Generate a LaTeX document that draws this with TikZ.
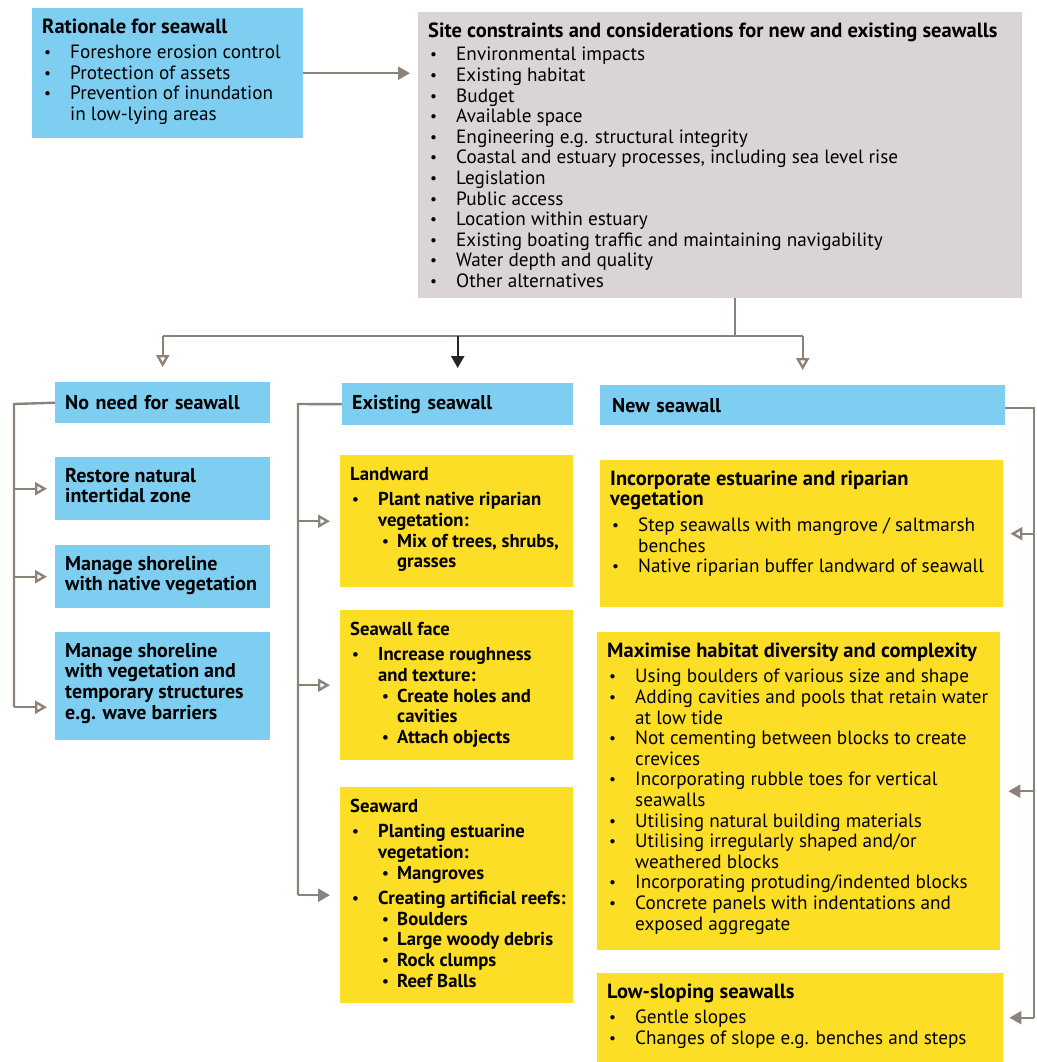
\documentclass[tikz,border=0pt]{standalone}
\usepackage{graphicx}
\usepackage{fontspec}
\setmainfont{PT Sans}
\usetikzlibrary{arrows.meta, calc}

\definecolor{seablue}{RGB}{125,206,240}
\definecolor{sandyellow}{RGB}{253,222,38}
\definecolor{sitegrey}{RGB}{218,212,214}
\definecolor{linkgrey}{RGB}{140,130,122}

% bullet lines with hanging indent
\newcommand{\bulletmark}{\raisebox{1pt}{\scalebox{0.8}{•}}}
\newcommand{\bul}[1]{\par\noindent\hangindent=28pt\hangafter=1\makebox[28pt][l]{\hspace{2pt}\bulletmark}#1}
\newcommand{\subbul}[1]{\par\noindent\hangindent=47pt\hangafter=1\hspace*{32pt}\makebox[15pt][l]{\bulletmark}#1}
\newcommand{\heading}[1]{{\fontsize{20.5}{20.6}\selectfont\bfseries #1\par}\vspace{5pt}}
% width, height, contents (top aligned)
\newcommand{\panel}[3]{\makebox[#1][l]{\parbox[c][#2][t]{\dimexpr#1+40pt\relax}{\raggedright\noindent\rule{0pt}{25pt}#3}}}

\begin{document}
\begin{tikzpicture}[
    x=1pt, y=-1pt,
    box/.style={rectangle, anchor=north west, inner xsep=10pt, inner ysep=0pt},
    body/.style={font=\fontsize{19.2}{20.6}\selectfont},
    head/.style={box, fill=seablue, align=left, font=\fontsize{20}{20.6}\selectfont\bfseries},
    choice/.style={box, fill=seablue, font=\fontsize{20}{20.6}\selectfont\bfseries},
    wallbox/.style={box, fill=sandyellow, font=\fontsize{18.7}{20.6}\selectfont\bfseries},
    link/.style={line width=2.4pt, draw=linkgrey},
    arrow/.style={-{Triangle[length=12pt, width=13pt]}, line width=2.4pt, draw=linkgrey},
    openarrow/.style={-{Triangle[open, length=12pt, width=13pt]}, line width=2.4pt, draw=linkgrey}
]
\useasboundingbox (0,0) rectangle (1036,1062);

% === Top row ===
\node[box, body, fill=seablue] (rationale) at (32,8)
  {\panel{251pt}{130pt}{\heading{Rationale for seawall}
   \bul{Foreshore erosion control}
   \bul{Protection of assets}
   \bul{Prevention of inundation\newline in low-lying areas}}};

\node[box, body, fill=sitegrey] (site) at (418,12)
  {\panel{584pt}{286pt}{\heading{Site constraints and considerations for new and existing seawalls}\vspace{-2pt}
   \bul{Environmental impacts}
   \bul{Existing habitat}
   \bul{Budget}
   \bul{Available space}
   \bul{Engineering e.g. structural integrity}
   \bul{Coastal and estuary processes, including sea level rise}
   \bul{Legislation}
   \bul{Public access}
   \bul{Location within estuary}
   \bul{Existing boating traffic and maintaining navigability}
   \bul{Water depth and quality}
   \bul{Other alternatives}}};

\draw[arrow, shorten >=8pt] (rationale.east) -- (rationale.east -| site.west);

% === Options ===
\node[head, minimum width=215pt, minimum height=41pt, text width=195pt] (noneed) at (55,382) {No need for seawall};
\node[head, minimum width=231pt, minimum height=42pt, text width=211pt] (existing) at (342,383) {Existing seawall};
\node[head, minimum width=403pt, minimum height=40pt, text width=381pt, inner xsep=12pt] (newwall) at (600,385) {New seawall};

\coordinate (split) at (735,336);
\draw[link] (site.south -| split) -- (split);
\draw[link] (noneed.north |- split) -- (newwall.north |- split);
\draw[openarrow, shorten >=15pt] (noneed.north |- split) -- (noneed.north);
\draw[arrow, draw=black!85, shorten >=15pt] (existing.north |- split) -- (existing.north);
\draw[openarrow, shorten >=15pt] (newwall.north |- split) -- (newwall.north);

% === No need for seawall ===
\node[choice] (restore) at (55,457)
  {\panel{195pt}{63pt}{Restore natural\newline intertidal zone}};
\node[choice] (managenat) at (55,545)
  {\panel{195pt}{63pt}{Manage shoreline\newline with native vegetation}};
\node[choice] (managetemp) at (55,632)
  {\panel{195pt}{108pt}{Manage shoreline\newline with vegetation and\newline temporary structures\newline e.g. wave barriers}};

\coordinate (leftrail) at (14,404);
\draw[link] (noneed.west) -- (leftrail) -- ([yshift=-21pt]managetemp.west -| leftrail);
\draw[openarrow, shorten >=8pt] (restore.west -| leftrail) -- (restore.west);
\draw[openarrow, shorten >=8pt] (managenat.west -| leftrail) -- (managenat.west);
\draw[openarrow, shorten >=8pt] ([yshift=-21pt]managetemp.west -| leftrail) -- ([yshift=-21pt]managetemp.west);

% === Existing seawall ===
\node[wallbox] (landward) at (340,455)
  {\panel{213pt}{132pt}{Landward\par\vspace{5pt}
   \bul{Plant native riparian\newline vegetation:}
   \subbul{Mix of trees, shrubs,\newline grasses}}};
\node[wallbox] (face) at (340,610)
  {\panel{213pt}{150pt}{Seawall face\par\vspace{5pt}
   \bul{Increase roughness\newline and texture:}
   \subbul{Create holes and\newline cavities}
   \subbul{Attach objects}}};
\node[wallbox] (seaward) at (340,787)
  {\panel{213pt}{216pt}{Seaward\par\vspace{5pt}
   \bul{Planting estuarine\newline vegetation:}
   \subbul{Mangroves}\par\vspace{5pt}
   \bul{Creating artificial reefs:}
   \subbul{Boulders}
   \subbul{Large woody debris}
   \subbul{Rock clumps}
   \subbul{Reef Balls}}};

\coordinate (midrail) at (298,404);
\draw[link] (existing.west) -- (midrail) -- (seaward.west -| midrail);
\draw[openarrow, shorten >=10pt] (landward.west -| midrail) -- (landward.west);
\draw[openarrow, shorten >=10pt] (face.west -| midrail) -- (face.west);
\draw[arrow, shorten >=10pt] (seaward.west -| midrail) -- (seaward.west);

% === New seawall ===
\node[box, body, fill=sandyellow] (incorp) at (600,460)
  {\panel{383pt}{147pt}{\heading{Incorporate estuarine and riparian\newline vegetation}
   \bul{Step seawalls with mangrove / saltmarsh\newline benches}
   \bul{Native riparian buffer landward of seawall}}};
\node[box, body, fill=sandyellow] (maxim) at (597,632)
  {\panel{383pt}{318pt}{\heading{Maximise habitat diversity and complexity}
   \bul{Using boulders of various size and shape}
   \bul{Adding cavities and pools that retain water\newline at low tide}
   \bul{Not cementing between blocks to create\newline crevices}
   \bul{Incorporating rubble toes for vertical\newline seawalls}
   \bul{Utilising natural building materials}
   \bul{Utilising irregularly shaped and/or\newline weathered blocks}
   \bul{Incorporating protuding/indented blocks}
   \bul{Concrete panels with indentations and\newline exposed aggregate}}};
\node[box, body, fill=sandyellow] (lowslope) at (597,973)
  {\panel{386pt}{89pt}{\heading{Low-sloping seawalls}
   \bul{Gentle slopes}
   \bul{Changes of slope e.g. benches and steps}}};

\coordinate (rightrail) at (1034,408);
\draw[link] (newwall.east |- rightrail) -- (rightrail) -- (lowslope.east -| rightrail);
\draw[openarrow, shorten >=7pt] (incorp.east -| rightrail) -- (incorp.east);
\draw[arrow, shorten >=8pt] (maxim.east -| rightrail) -- (maxim.east);
\draw[arrow, shorten >=6pt] (lowslope.east -| rightrail) -- (lowslope.east);

\end{tikzpicture}
\end{document}
